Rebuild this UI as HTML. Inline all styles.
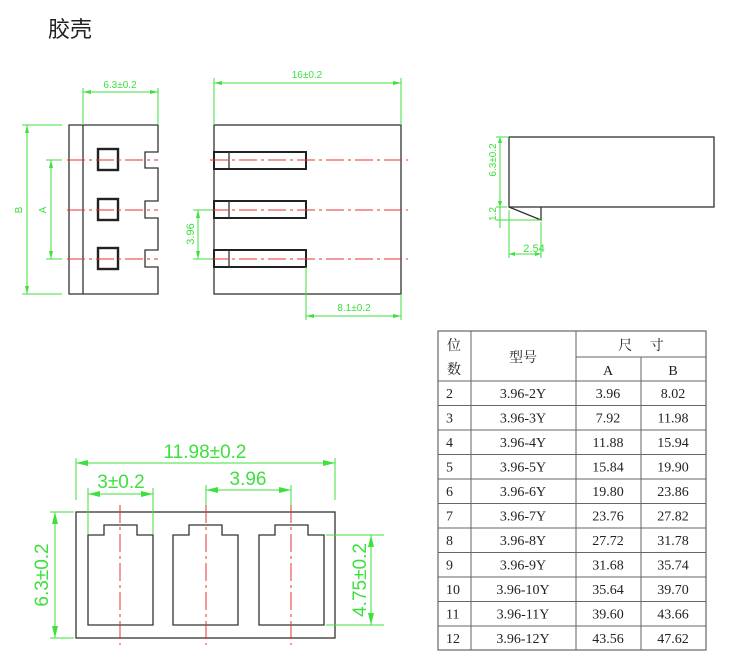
<!DOCTYPE html>
<html><head><meta charset="utf-8"><style>
html,body{margin:0;padding:0;background:#fff;}
svg{display:block;}
.g{stroke:#3ee03e;stroke-width:1;fill:none;}
.k{stroke:#333;stroke-width:1.3;fill:none;}
.kb{stroke:#222;stroke-width:2.4;fill:none;}
.r{stroke:#e83030;stroke-width:1;fill:none;stroke-dasharray:18 4 3 4;}
.gt{fill:#3ee03e;font-family:"Liberation Sans",sans-serif;}
.tt{fill:#222;font-family:"Liberation Serif","Noto Serif CJK SC",serif;font-size:14px;text-anchor:middle;}
.tl{stroke:#666;stroke-width:1;}
</style></head><body>
<svg width="737" height="667" viewBox="0 0 737 667" xmlns="http://www.w3.org/2000/svg">
<text x="48" y="37" font-family="'Liberation Sans','Noto Sans CJK SC',sans-serif" font-size="22" fill="#222">胶壳</text>

<!-- Left view -->
<path class="k" d="M69 125 H158 V152 H145 V168 H158 V201 H145 V218 H158 V250 H145 V267 H158 V294 H69 Z"/>
<line class="k" x1="83" y1="125" x2="83" y2="294"/>
<rect class="kb" x="98" y="149" width="20" height="21"/>
<rect class="kb" x="98" y="199" width="20" height="21"/>
<rect class="kb" x="98" y="248" width="20" height="21"/>
<line class="r" x1="67" y1="160" x2="158" y2="160"/>
<line class="r" x1="67" y1="210" x2="158" y2="210"/>
<line class="r" x1="67" y1="259" x2="158" y2="259"/>
<line class="g" x1="22" y1="125" x2="62" y2="125"/>
<line class="g" x1="22" y1="294" x2="62" y2="294"/>
<line class="g" x1="27" y1="125" x2="27" y2="294"/>
<line class="g" x1="46" y1="160" x2="62" y2="160"/>
<line class="g" x1="46" y1="259" x2="62" y2="259"/>
<line class="g" x1="51" y1="160" x2="51" y2="259"/>
<text class="gt" font-size="10" transform="translate(22,210) rotate(-90)" text-anchor="middle">B</text>
<text class="gt" font-size="10" transform="translate(46,210) rotate(-90)" text-anchor="middle">A</text>
<line class="g" x1="83" y1="88" x2="83" y2="125"/>
<line class="g" x1="158" y1="88" x2="158" y2="125"/>
<line class="g" x1="83" y1="92" x2="158" y2="92"/>
<text class="gt" font-size="10" x="120" y="88" text-anchor="middle">6.3±0.2</text>

<!-- Middle view -->
<rect class="k" x="214" y="125" width="187" height="169"/>
<rect class="kb" x="214" y="152" width="92" height="17" style="stroke-width:2"/>
<rect class="kb" x="214" y="201" width="92" height="17" style="stroke-width:2"/>
<rect class="kb" x="214" y="250" width="92" height="17" style="stroke-width:2"/>
<line class="k" x1="229" y1="152" x2="229" y2="169"/>
<line class="k" x1="229" y1="201" x2="229" y2="218"/>
<line class="k" x1="229" y1="250" x2="229" y2="267"/>
<line class="r" x1="210" y1="160" x2="408" y2="160"/>
<line class="r" x1="210" y1="210" x2="408" y2="210"/>
<line class="r" x1="210" y1="259" x2="408" y2="259"/>
<line class="g" x1="214" y1="78" x2="214" y2="125"/>
<line class="g" x1="401" y1="78" x2="401" y2="125"/>
<line class="g" x1="214" y1="83" x2="401" y2="83"/>
<text class="gt" font-size="10" x="307" y="78" text-anchor="middle">16±0.2</text>
<line class="g" x1="193" y1="210" x2="212" y2="210"/>
<line class="g" x1="193" y1="259" x2="212" y2="259"/>
<line class="g" x1="198" y1="210" x2="198" y2="259"/>
<text class="gt" font-size="11" transform="translate(194,234) rotate(-90)" text-anchor="middle">3.96</text>
<line class="g" x1="306" y1="267" x2="306" y2="320"/>
<line class="g" x1="401" y1="294" x2="401" y2="320"/>
<line class="g" x1="306" y1="316" x2="401" y2="316"/>
<text class="gt" font-size="10" x="354" y="311" text-anchor="middle">8.1±0.2</text>

<!-- Right view -->
<rect class="k" x="509" y="137" width="205" height="70"/>
<path class="k" d="M509 207 L541 220 L541 207"/>
<line class="g" x1="500" y1="137" x2="500" y2="228"/>
<line class="g" x1="496" y1="137" x2="509" y2="137"/>
<line class="g" x1="496" y1="207" x2="507" y2="207"/>
<line class="g" x1="496" y1="220" x2="541" y2="220"/>
<text class="gt" font-size="10" transform="translate(496,160) rotate(-90)" text-anchor="middle">6.3±0.2</text>
<text class="gt" font-size="10" transform="translate(496,214) rotate(-90)" text-anchor="middle">1.2</text>
<line class="g" x1="509" y1="210" x2="509" y2="258"/>
<line class="g" x1="541" y1="222" x2="541" y2="258"/>
<line class="g" x1="509" y1="254" x2="541" y2="254"/>
<text class="gt" font-size="11" x="534" y="252" text-anchor="middle">2.54</text>

<!-- Bottom view -->
<rect class="k" x="76" y="512" width="259" height="126"/>
<path class="k" d="M88 535 H104 V525 H137 V535 H153 V625 H88 Z"/>
<path class="k" d="M173 535 H189 V525 H222 V535 H238 V625 H173 Z"/>
<path class="k" d="M259 535 H275 V525 H308 V535 H324 V625 H259 Z"/>
<line class="r" x1="120" y1="505" x2="120" y2="645"/>
<line class="r" x1="206" y1="505" x2="206" y2="645"/>
<line class="r" x1="291" y1="505" x2="291" y2="645"/>
<line class="g" x1="76" y1="458" x2="76" y2="500"/>
<line class="g" x1="335" y1="458" x2="335" y2="500"/>
<line class="g" x1="76" y1="463" x2="335" y2="463"/>
<text class="gt" font-size="19" x="205" y="458" text-anchor="middle">11.98±0.2</text>
<line class="g" x1="88" y1="488" x2="88" y2="534"/>
<line class="g" x1="153" y1="488" x2="153" y2="534"/>
<line class="g" x1="88" y1="494" x2="153" y2="494"/>
<text class="gt" font-size="19" x="121" y="488" text-anchor="middle">3±0.2</text>
<line class="g" x1="206" y1="485" x2="206" y2="505"/>
<line class="g" x1="291" y1="485" x2="291" y2="505"/>
<line class="g" x1="206" y1="490" x2="291" y2="490"/>
<text class="gt" font-size="19" x="248" y="485" text-anchor="middle">3.96</text>
<line class="g" x1="50" y1="512" x2="74" y2="512"/>
<line class="g" x1="50" y1="638" x2="74" y2="638"/>
<line class="g" x1="55" y1="512" x2="55" y2="638"/>
<text class="gt" font-size="19" transform="translate(48,575) rotate(-90)" text-anchor="middle">6.3±0.2</text>
<line class="g" x1="326" y1="535" x2="384" y2="535"/>
<line class="g" x1="326" y1="625" x2="384" y2="625"/>
<line class="g" x1="371" y1="535" x2="371" y2="625"/>
<text class="gt" font-size="19" transform="translate(366,580) rotate(-90)" text-anchor="middle">4.75±0.2</text>
<!-- arrowheads -->
<g fill="#3ee03e">
<path d="M27 125 l-2 8 h4z M27 294 l-2 -8 h4z M51 160 l-2 8 h4z M51 259 l-2 -8 h4z"/>
<path d="M83 92 l8 -2 v4z M158 92 l-8 -2 v4z M214 83 l8 -2 v4z M401 83 l-8 -2 v4z"/>
<path d="M198 210 l-2 8 h4z M198 259 l-2 -8 h4z M306 316 l8 -2 v4z M401 316 l-8 -2 v4z"/>
<path d="M500 137 l-2 6 h4z M500 207 l-2 -6 h4z M509 254 l6 -2 v4z M541 254 l-6 -2 v4z"/>
<path d="M76 463 l12 -3 v6z M335 463 l-12 -3 v6z M88 494 l12 -3 v6z M153 494 l-12 -3 v6z"/>
<path d="M206 490 l12 -3 v6z M291 490 l-12 -3 v6z M55 512 l-3 12 h6z M55 638 l-3 -12 h6z"/>
<path d="M371 535 l-3 12 h6z M371 625 l-3 -12 h6z"/>
</g>

<!-- Table -->
<g>
<rect x="438" y="331" width="268" height="319" fill="none" stroke="#666" stroke-width="1.2"/>
<line class="tl" x1="471" y1="331" x2="471" y2="650"/>
<line class="tl" x1="576" y1="331" x2="576" y2="650"/>
<line class="tl" x1="641" y1="357" x2="641" y2="650"/>
<line class="tl" x1="576" y1="357" x2="706" y2="357"/>
<line class="tl" x1="438" y1="381" x2="706" y2="381"/>
<line class="tl" x1="438" y1="405.5" x2="706" y2="405.5"/>
<line class="tl" x1="438" y1="430" x2="706" y2="430"/>
<line class="tl" x1="438" y1="454.5" x2="706" y2="454.5"/>
<line class="tl" x1="438" y1="479" x2="706" y2="479"/>
<line class="tl" x1="438" y1="503.5" x2="706" y2="503.5"/>
<line class="tl" x1="438" y1="528" x2="706" y2="528"/>
<line class="tl" x1="438" y1="552.5" x2="706" y2="552.5"/>
<line class="tl" x1="438" y1="577" x2="706" y2="577"/>
<line class="tl" x1="438" y1="601.5" x2="706" y2="601.5"/>
<line class="tl" x1="438" y1="626" x2="706" y2="626"/>
<text class="tt" x="454" y="350">位</text>
<text class="tt" x="454" y="374">数</text>
<text class="tt" x="523" y="362">型号</text>
<text class="tt" x="641" y="350">尺　 寸</text>
<text class="tt" x="608" y="375">A</text>
<text class="tt" x="673" y="375">B</text>
<text class="tt" x="446" y="398" style="text-anchor:start">2</text>
<text class="tt" x="523" y="398">3.96-2Y</text><text class="tt" x="608" y="398">3.96</text><text class="tt" x="673" y="398">8.02</text>
<text class="tt" x="446" y="422.5" style="text-anchor:start">3</text>
<text class="tt" x="523" y="422.5">3.96-3Y</text><text class="tt" x="608" y="422.5">7.92</text><text class="tt" x="673" y="422.5">11.98</text>
<text class="tt" x="446" y="447" style="text-anchor:start">4</text>
<text class="tt" x="523" y="447">3.96-4Y</text><text class="tt" x="608" y="447">11.88</text><text class="tt" x="673" y="447">15.94</text>
<text class="tt" x="446" y="471.5" style="text-anchor:start">5</text>
<text class="tt" x="523" y="471.5">3.96-5Y</text><text class="tt" x="608" y="471.5">15.84</text><text class="tt" x="673" y="471.5">19.90</text>
<text class="tt" x="446" y="496" style="text-anchor:start">6</text>
<text class="tt" x="523" y="496">3.96-6Y</text><text class="tt" x="608" y="496">19.80</text><text class="tt" x="673" y="496">23.86</text>
<text class="tt" x="446" y="520.5" style="text-anchor:start">7</text>
<text class="tt" x="523" y="520.5">3.96-7Y</text><text class="tt" x="608" y="520.5">23.76</text><text class="tt" x="673" y="520.5">27.82</text>
<text class="tt" x="446" y="545" style="text-anchor:start">8</text>
<text class="tt" x="523" y="545">3.96-8Y</text><text class="tt" x="608" y="545">27.72</text><text class="tt" x="673" y="545">31.78</text>
<text class="tt" x="446" y="569.5" style="text-anchor:start">9</text>
<text class="tt" x="523" y="569.5">3.96-9Y</text><text class="tt" x="608" y="569.5">31.68</text><text class="tt" x="673" y="569.5">35.74</text>
<text class="tt" x="446" y="594" style="text-anchor:start">10</text>
<text class="tt" x="523" y="594">3.96-10Y</text><text class="tt" x="608" y="594">35.64</text><text class="tt" x="673" y="594">39.70</text>
<text class="tt" x="446" y="618.5" style="text-anchor:start">11</text>
<text class="tt" x="523" y="618.5">3.96-11Y</text><text class="tt" x="608" y="618.5">39.60</text><text class="tt" x="673" y="618.5">43.66</text>
<text class="tt" x="446" y="643" style="text-anchor:start">12</text>
<text class="tt" x="523" y="643">3.96-12Y</text><text class="tt" x="608" y="643">43.56</text><text class="tt" x="673" y="643">47.62</text>
</g>
</svg>
</body></html>
